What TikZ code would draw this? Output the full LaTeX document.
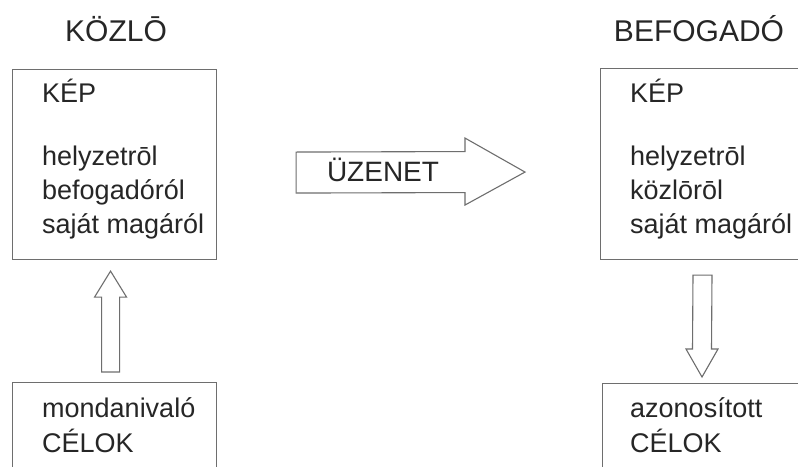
\documentclass[tikz,border=0pt]{standalone}
\usepackage{fontspec}
\setmainfont{Liberation Sans}
\usetikzlibrary{calc}
\definecolor{ink}{HTML}{262626}
\definecolor{frame}{HTML}{6E6E6E}
\begin{document}
\begin{tikzpicture}[x=1pt,y=-1pt,
  panel/.style={draw=frame,line width=1.1pt,inner sep=0pt,anchor=north west},
  heading/.style={text=ink,inner sep=0pt,anchor=base,font=\fontsize{30}{36}\selectfont},
  txt/.style={text=ink,inner sep=0pt,anchor=base west,font=\fontsize{27}{32}\selectfont},
  blockarrow/.style={draw=frame,line width=1.1pt,fill=white,line join=miter}]
\useasboundingbox (0,0) rectangle (798,466);
\fill[white] (0,0) rectangle (798,466);

% column headings
\node[heading] (sender) at (116,41) {KÖZLŌ};
\node[heading] (receiver) at (699,41) {BEFOGADÓ};

% sender side
\node[panel,minimum width=204pt,minimum height=190pt] (srcimg) at (12,69) {};
\node[txt] (srck) at (42,102) {KÉP};
\node[txt] (srca) at (42,165) {helyzetrōl};
\node[txt] (srcb) at (42,199) {befogadóról};
\node[txt] (srcc) at (42,233) {saját magáról};

\node[panel,minimum width=204pt,minimum height=110pt] (srcgoal) at (12,382) {};
\node[txt] (srcg1) at (42,417) {mondanivaló};
\node[txt] (srcg2) at (42,452) {CÉLOK};

% receiver side (boxes run past the right edge)
\node[panel,minimum width=230pt,minimum height=191pt] (dstimg) at (600,68) {};
\node[txt] (dstk) at (630,102) {KÉP};
\node[txt] (dsta) at (630,165) {helyzetrōl};
\node[txt] (dstb) at (630,199) {közlōrōl};
\node[txt] (dstc) at (630,233) {saját magáról};

\node[panel,minimum width=230pt,minimum height=110pt] (dstgoal) at (602,383) {};
\node[txt] (dstg1) at (630,417) {azonosított};
\node[txt] (dstg2) at (630,452) {CÉLOK};

% goals -> image (sender)
\coordinate (upfoot) at ($(srcgoal.north)+(-4,-10)$);
\coordinate (uptip) at ($(srcimg.south)+(-4,11)$);
\draw[blockarrow] ($(upfoot)+(-9,0)$) -- ($(upfoot)+(9,0)$) -- ($(uptip)+(9,26)$)
  -- ($(uptip)+(16,26)$) -- (uptip) -- ($(uptip)+(-16,26)$) -- ($(uptip)+(-9,26)$) -- cycle;

% image -> goals (receiver)
\coordinate (dntop) at ($(dstimg.south west)+(102.5,15)$);
\coordinate (dntip) at ($(dstgoal.north west)+(100,-6)$);
\draw[blockarrow] ($(dntop)+(-9.5,0)$) -- ($(dntop)+(9.5,0)$) -- ($(dntip)+(9.5,-28)$)
  -- ($(dntip)+(16,-28)$) -- (dntip) -- ($(dntip)+(-16,-28)$) -- ($(dntip)+(-9.5,-28)$) -- cycle;

% message arrow between the two sides
\coordinate (msgtail) at ($(srcimg.east)+(79,8)$);
\coordinate (msgtip) at ($(dstimg.west)+(-75,8)$);
\draw[blockarrow] ($(msgtail)+(0,-20.5)$) -- ($(msgtip)+(-60,-20.5)$) -- ($(msgtip)+(-60,-34)$)
  -- (msgtip) -- ($(msgtip)+(-60,33)$) -- ($(msgtip)+(-60,20.5)$) -- ($(msgtail)+(0,20.5)$) -- cycle;
\node[heading,font=\fontsize{28}{34}\selectfont] (msg) at (383,181) {ÜZENET};
\end{tikzpicture}
\end{document}
